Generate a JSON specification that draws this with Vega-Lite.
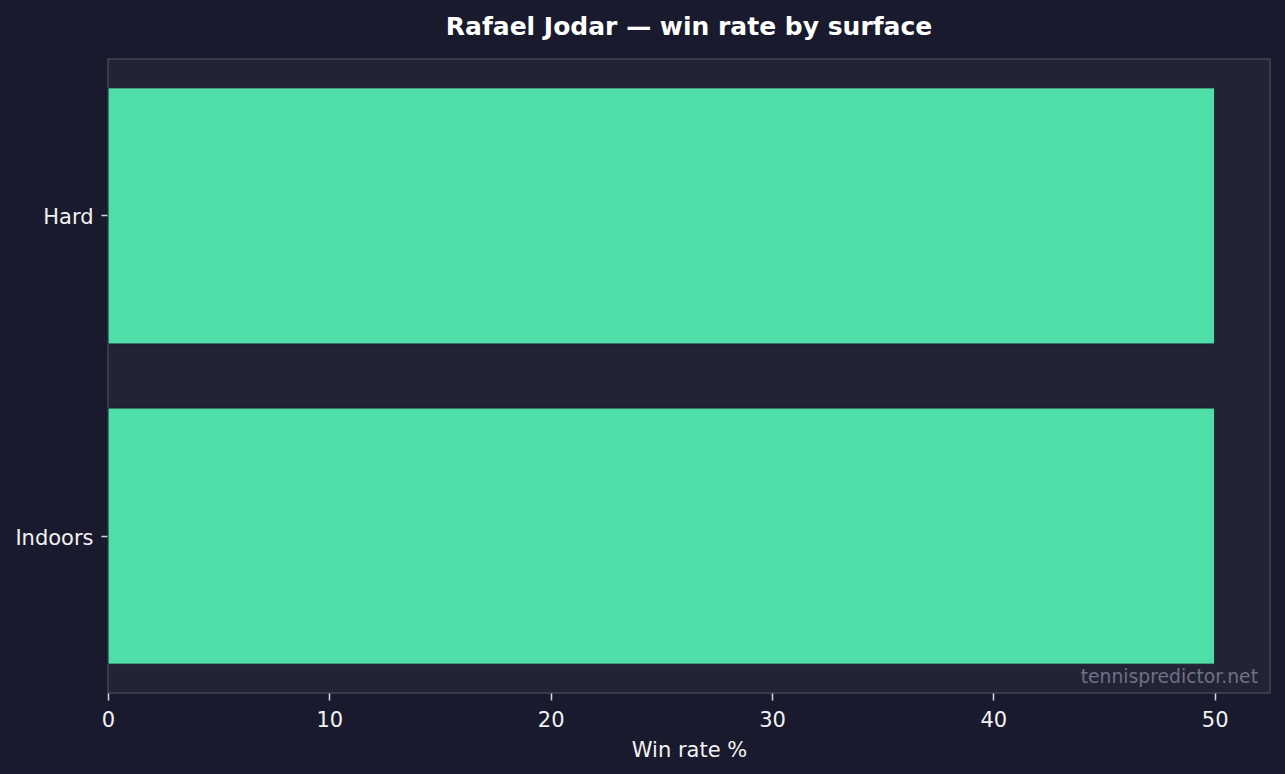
{
  "$schema": "https://vega.github.io/schema/vega-lite/v6.json",
  "width": 1162,
  "height": 634,
  "autosize": {"type": "none"},
  "padding": {"left": 108, "top": 59, "right": 15, "bottom": 81},
  "background": "#1a1a2e",
  "title": {
    "text": "Rafael Jodar — win rate by surface",
    "font": "DejaVu Sans",
    "fontSize": 25,
    "fontWeight": "bold",
    "color": "#ffffff",
    "anchor": "middle",
    "offset": 19
  },
  "config": {
    "view": {"fill": "#232336", "stroke": "#46464f", "strokeWidth": 1.5},
    "font": "DejaVu Sans",
    "axis": {
      "labelFont": "DejaVu Sans",
      "labelFontSize": 21,
      "labelColor": "#f2f2f2",
      "titleFont": "DejaVu Sans",
      "titleFontSize": 21,
      "titleFontWeight": "normal",
      "titleColor": "#f2f2f2",
      "tickColor": "#d8d8d8",
      "tickSize": 7,
      "tickWidth": 1.5,
      "domain": false,
      "grid": false
    }
  },
  "layer": [
    {
      "data": {
        "values": [
          {"surface": "Hard", "win_rate": 50},
          {"surface": "Indoors", "win_rate": 50}
        ]
      },
      "mark": {"type": "bar", "color": "#4fdea7", "stroke": "#1a1a2e", "strokeWidth": 1},
      "encoding": {
        "y": {
          "field": "surface",
          "type": "nominal",
          "sort": null,
          "scale": {"paddingInner": 0.2, "paddingOuter": 0.09},
          "axis": {"title": null, "labelPadding": 8, "labelOffset": 2.5}
        },
        "x": {
          "field": "win_rate",
          "type": "quantitative",
          "scale": {"domain": [0, 52.5], "nice": false, "zero": true},
          "axis": {"title": "Win rate %", "values": [0, 10, 20, 30, 40, 50], "labelPadding": 9, "titlePadding": 9, "labelFlush": false}
        }
      }
    },
    {
      "data": {"values": [{"note": "tennispredictor.net"}]},
      "mark": {"type": "text", "align": "right", "baseline": "bottom", "dx": -12, "dy": -6, "fontSize": 18.75, "color": "#6f7183", "font": "DejaVu Sans"},
      "encoding": {
        "text": {"field": "note"},
        "x": {"value": "width"},
        "y": {"value": "height"}
      }
    }
  ]
}
